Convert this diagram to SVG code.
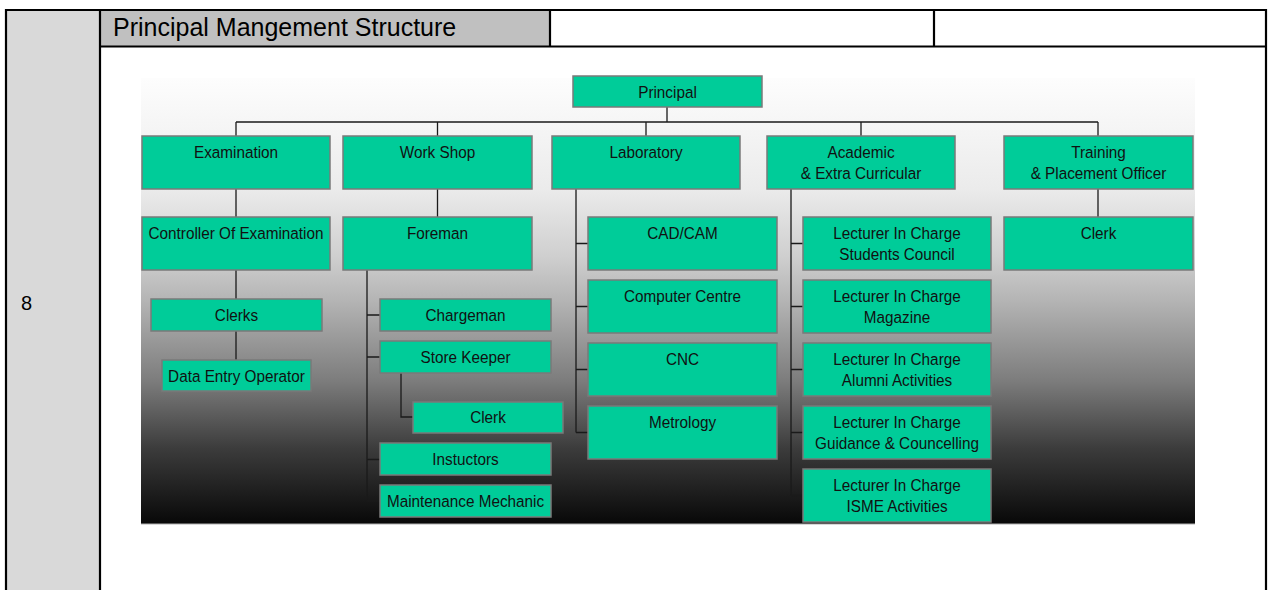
<svg xmlns="http://www.w3.org/2000/svg" width="1268" height="590" viewBox="0 0 1268 590">
<defs>
<linearGradient id="bg" x1="0" y1="0" x2="0" y2="1">
<stop offset="0" stop-color="#fdfdfd"/>
<stop offset="0.25" stop-color="#ebebeb"/>
<stop offset="0.4" stop-color="#cfcfcf"/>
<stop offset="0.5" stop-color="#b4b4b4"/>
<stop offset="0.68" stop-color="#7c7c7c"/>
<stop offset="0.83" stop-color="#3c3c3c"/>
<stop offset="1" stop-color="#080808"/>
</linearGradient>
<style>
.box{fill:#00cc99;stroke:#7a7a7a;stroke-width:1.5}
.t{font-family:"Liberation Sans",Arial,sans-serif;font-size:17px;fill:#111;text-anchor:middle}
.c{stroke:#1a1a1a;stroke-width:1.3;fill:none}
.b{stroke:#000;stroke-width:2.2;fill:none}
</style>
</defs>
<rect x="0" y="0" width="1268" height="590" fill="#fff"/>
<g id="table">
<rect x="6" y="10" width="94" height="580" fill="#d9d9d9"/>
<rect x="100" y="10" width="450" height="36.5" fill="#c0c0c0"/>
<path class="b" d="M6 590V10H1266V590M100 10V590M100 46.5H1266M550 10V46.5M934 10V46.5"/>
<text x="113" y="36" style="font-family:'Liberation Sans',Arial,sans-serif;font-size:25px;fill:#000">Principal Mangement Structure</text>
<text x="21" y="310" style="font-family:'Liberation Sans',Arial,sans-serif;font-size:20px;fill:#000">8</text>
</g>
<g id="background">
<rect x="141" y="78" width="1054" height="446" fill="url(#bg)"/>
<line x1="141" y1="524" x2="1195" y2="524" stroke="#b0b0b0" stroke-width="1"/>
</g>
<g id="connectors">
<path class="c" d="M667 107V122M236 122H1098M236 122V136M437.5 122V136M646 122V136M861 122V136M1098 122V136"/>
<path class="c" d="M236 189V217M236 270V299M236 331V360"/>
<path class="c" d="M437.5 189V217M367 270V501M367 315H380M367 357H380M367 459.5H380M367 501H380M401 373V417H413"/>
<path class="c" d="M576 189V432.5M576 243.5H588M576 306.5H588M576 369.5H588M576 432.5H588"/>
<path class="c" d="M791 189V495.5M791 243.5H803M791 306.5H803M791 369.5H803M791 432.5H803M791 495.5H803"/>
<path class="c" d="M1098 189V217"/>
</g>
<g id="principal"><rect class="box" x="573" y="76" width="189" height="31"/><text class="t" transform="translate(667.5 98) scale(0.9 1)">Principal</text></g>
<g id="examination"><rect class="box" x="142" y="136" width="188" height="53"/><text class="t" transform="translate(236 158) scale(0.9 1)">Examination</text></g>
<g id="workshop"><rect class="box" x="343" y="136" width="189" height="53"/><text class="t" transform="translate(437.5 158) scale(0.9 1)">Work Shop</text></g>
<g id="laboratory"><rect class="box" x="552" y="136" width="188" height="53"/><text class="t" transform="translate(646 158) scale(0.9 1)">Laboratory</text></g>
<g id="academic"><rect class="box" x="767" y="136" width="188" height="53"/><text class="t" transform="translate(861 158) scale(0.9 1)">Academic</text><text class="t" transform="translate(861 179) scale(0.9 1)">&amp; Extra Curricular</text></g>
<g id="training"><rect class="box" x="1004" y="136" width="189" height="53"/><text class="t" transform="translate(1098.5 158) scale(0.9 1)">Training</text><text class="t" transform="translate(1098.5 179) scale(0.9 1)">&amp; Placement Officer</text></g>
<g id="controller"><rect class="box" x="142" y="217" width="188" height="53"/><text class="t" transform="translate(236 239) scale(0.9 1)">Controller Of Examination</text></g>
<g id="foreman"><rect class="box" x="343" y="217" width="189" height="53"/><text class="t" transform="translate(437.5 239) scale(0.9 1)">Foreman</text></g>
<g id="cadcam"><rect class="box" x="588" y="217" width="189" height="53"/><text class="t" transform="translate(682.5 239) scale(0.9 1)">CAD/CAM</text></g>
<g id="lic-students"><rect class="box" x="803" y="217" width="188" height="53"/><text class="t" transform="translate(897 239) scale(0.9 1)">Lecturer In Charge</text><text class="t" transform="translate(897 260) scale(0.9 1)">Students Council</text></g>
<g id="clerk-tpo"><rect class="box" x="1004" y="217" width="189" height="53"/><text class="t" transform="translate(1098.5 239) scale(0.9 1)">Clerk</text></g>
<g id="computer-centre"><rect class="box" x="588" y="280" width="189" height="53"/><text class="t" transform="translate(682.5 302) scale(0.9 1)">Computer Centre</text></g>
<g id="lic-magazine"><rect class="box" x="803" y="280" width="188" height="53"/><text class="t" transform="translate(897 302) scale(0.9 1)">Lecturer In Charge</text><text class="t" transform="translate(897 323) scale(0.9 1)">Magazine</text></g>
<g id="cnc"><rect class="box" x="588" y="343" width="189" height="53"/><text class="t" transform="translate(682.5 365) scale(0.9 1)">CNC</text></g>
<g id="lic-alumni"><rect class="box" x="803" y="343" width="188" height="53"/><text class="t" transform="translate(897 365) scale(0.9 1)">Lecturer In Charge</text><text class="t" transform="translate(897 386) scale(0.9 1)">Alumni Activities</text></g>
<g id="metrology"><rect class="box" x="588" y="406" width="189" height="53"/><text class="t" transform="translate(682.5 428) scale(0.9 1)">Metrology</text></g>
<g id="lic-guidance"><rect class="box" x="803" y="406" width="188" height="53"/><text class="t" transform="translate(897 428) scale(0.9 1)">Lecturer In Charge</text><text class="t" transform="translate(897 449) scale(0.9 1)">Guidance &amp; Councelling</text></g>
<g id="lic-isme"><rect class="box" x="803" y="469" width="188" height="53"/><text class="t" transform="translate(897 491) scale(0.9 1)">Lecturer In Charge</text><text class="t" transform="translate(897 512) scale(0.9 1)">ISME Activities</text></g>
<g id="clerks"><rect class="box" x="151" y="299" width="171" height="32"/><text class="t" transform="translate(236.5 321) scale(0.9 1)">Clerks</text></g>
<g id="data-entry"><rect class="box" x="162" y="360" width="149" height="31"/><text class="t" transform="translate(236.5 382) scale(0.9 1)">Data Entry Operator</text></g>
<g id="chargeman"><rect class="box" x="380" y="299" width="171" height="32"/><text class="t" transform="translate(465.5 321) scale(0.9 1)">Chargeman</text></g>
<g id="store-keeper"><rect class="box" x="380" y="341" width="171" height="32"/><text class="t" transform="translate(465.5 363) scale(0.9 1)">Store Keeper</text></g>
<g id="clerk-ws"><rect class="box" x="413" y="402" width="150" height="31"/><text class="t" transform="translate(488 423) scale(0.9 1)">Clerk</text></g>
<g id="instuctors"><rect class="box" x="380" y="443" width="171" height="32"/><text class="t" transform="translate(465.5 465) scale(0.9 1)">Instuctors</text></g>
<g id="maintenance"><rect class="box" x="380" y="485" width="171" height="32"/><text class="t" transform="translate(465.5 507) scale(0.9 1)">Maintenance Mechanic</text></g>
</svg>
